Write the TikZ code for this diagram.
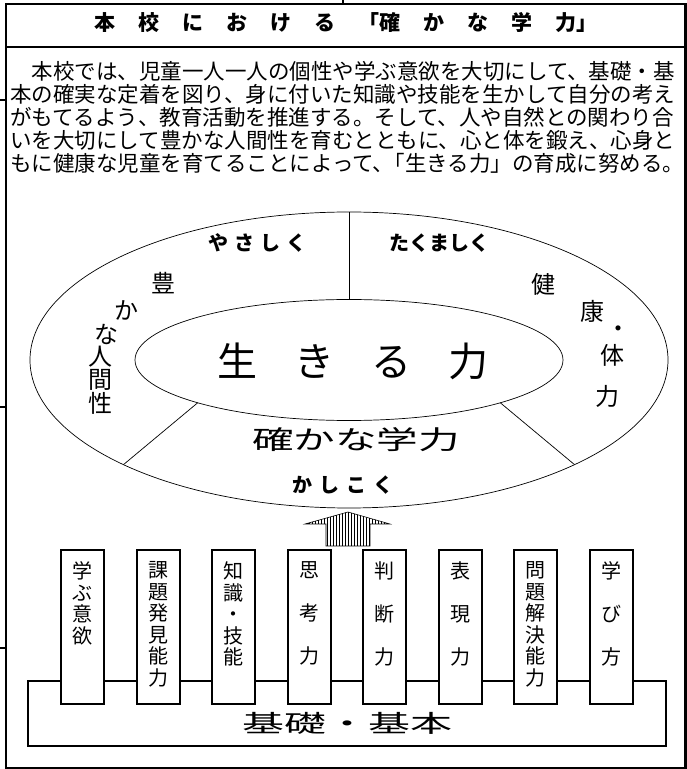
\documentclass[tikz,border=0pt]{standalone}
\usepackage{fontspec}
\newfontfamily\jp{Noto Sans CJK JP}
\usetikzlibrary{patterns}

\newcommand\tg{\hspace{23pt}}

\tikzset{
  frame/.style={line width=2.5pt},
  ring/.style={line width=0.7pt},
  txt/.style={inner sep=0pt},
  pillar/.style={draw,line width=2pt,fill=white,minimum width=43pt,minimum height=154pt,inner sep=0pt,anchor=north},
  ptxt/.style={inner sep=0pt,anchor=north,align=center,font=\jp\fontsize{20}{21.5}\selectfont},
}

\begin{document}
\begin{tikzpicture}[x=1pt,y=1pt,every node/.style={font=\jp}]
  \useasboundingbox (0,0) rectangle (687,769);
  % frame and title
  \draw[frame] (6,1) rectangle (685.5,765);
  \draw[frame] (6,722) -- (685.5,722);
  \draw[frame] (343,765) -- (343,769);
  \draw[frame] (0,669) -- (6,669);
  \draw[frame] (0,362) -- (6,362);
  \draw[frame] (0,121) -- (6,121);
  \node[txt,font=\jp\bfseries\fontsize{21}{21}\selectfont] (title) at (346,746)
    {本\tg 校\tg に\tg お\tg け\tg る\tg 「確\tg か\tg な\tg 学\tg 力」};
  \node[txt,anchor=north west,align=left,font=\jp\fontsize{21.5}{23}\selectfont] (intro) at (10,708)
    {　本校では、児童一人一人の個性や学ぶ意欲を大切にして、基礎・基\\
     本の確実な定着を図り、身に付いた知識や技能を生かして自分の考え\\
     がもてるよう、教育活動を推進する。そして、人や自然との関わり合\\
     いを大切にして豊かな人間性を育むとともに、心と体を鍛え、心身と\\
     もに健康な児童を育てることによって、\kern-0.5em「生きる力」の育成に努める。};

  % ellipses
  \coordinate (c) at (349,409);
  \draw[ring] (c) ellipse [x radius=319, y radius=148];
  \draw[ring] (c) ellipse [x radius=214, y radius=60.5];
  \draw[ring] ([shift={(90:319 and 148)}]c) -- ([shift={(90:214 and 60.5)}]c);
  \draw[ring] ([shift={(225:319 and 148)}]c) -- ([shift={(225:214 and 60.5)}]c);
  \draw[ring] ([shift={(315:319 and 148)}]c) -- ([shift={(315:214 and 60.5)}]c);

  \node[txt,font=\jp\fontsize{40}{40}\selectfont] (ikiru) at (353,408)
    {生\hspace{37pt}き\hspace{37pt}る\hspace{37pt}力};
  \node[txt,font=\jp\fontsize{26}{26}\selectfont] (gakuryoku) at (356,329)
    {\scalebox{1.6}[1]{確かな学力}};
  \node[txt,font=\jp\bfseries\fontsize{20}{20}\selectfont] (yasashiku) at (257,526)
    {や\hspace{6pt}さ\hspace{6pt}し\hspace{6pt}く};
  \node[txt,font=\jp\bfseries\fontsize{20}{20}\selectfont] (takumashiku) at (439,526)
    {たくましく};
  \node[txt,font=\jp\bfseries\fontsize{20}{20}\selectfont] (kashikoku) at (343,284)
    {か\hspace{7pt}し\hspace{7pt}こ\hspace{7pt}く};

  \begin{scope}[every node/.style={txt,font=\jp\fontsize{24}{24}\selectfont}]
    \node (yu1) at (163,486) {豊};
    \node (yu2) at (126,459) {か};
    \node (yu3) at (106,435) {な};
    \node (yu4) at (100,412) {人};
    \node (yu5) at (100,389) {間};
    \node (yu6) at (100,366) {性};
    \node (ke1) at (543,485) {健};
    \node (ke2) at (592,458) {康};
    \node (ke3) at (618,437) {・};
    \node (ke4) at (612,414) {体};
    \node (ke5) at (607,373) {力};
  \end{scope}

  % arrow
  \draw[line width=0.6pt,pattern=vertical lines]
    (326,223) -- (326,245) -- (305,245) -- (348,257) -- (390,245) -- (370,245) -- (370,223) -- cycle;

  % base and pillars
  \draw[line width=2pt] (28,23) rectangle (666,88);
  \node[txt,font=\jp\fontsize{24}{24}\selectfont] (kiso) at (347,46)
    {\scalebox{1.75}[1]{基礎・基本}};

  \node[pillar] (p1) at (82.5,220) {};
  \node[pillar] (p2) at (158,220) {};
  \node[pillar] (p3) at (233.5,220) {};
  \node[pillar] (p4) at (309,220) {};
  \node[pillar] (p5) at (384.5,220) {};
  \node[pillar] (p6) at (460,220) {};
  \node[pillar] (p7) at (535.5,220) {};
  \node[pillar] (p8) at (611,220) {};

  \node[ptxt] (t1) at ([yshift=-12.5pt]p1.north) {学\\ぶ\\意\\欲};
  \node[ptxt] (t2) at ([yshift=-12.5pt]p2.north) {課\\題\\発\\見\\能\\力};
  \node[ptxt] (t3) at ([yshift=-12.5pt]p3.north) {知\\識\\・\\技\\能};
  \node[ptxt] (t4) at ([yshift=-12.5pt]p4.north) {思\\[21.5pt]考\\[21.5pt]力};
  \node[ptxt] (t5) at ([yshift=-12.5pt]p5.north) {判\\[21.5pt]断\\[21.5pt]力};
  \node[ptxt] (t6) at ([yshift=-12.5pt]p6.north) {表\\[21.5pt]現\\[21.5pt]力};
  \node[ptxt] (t7) at ([yshift=-12.5pt]p7.north) {問\\題\\解\\決\\能\\力};
  \node[ptxt] (t8) at ([yshift=-12.5pt]p8.north) {学\\[21.5pt]び\\[21.5pt]方};
\end{tikzpicture}
\end{document}
